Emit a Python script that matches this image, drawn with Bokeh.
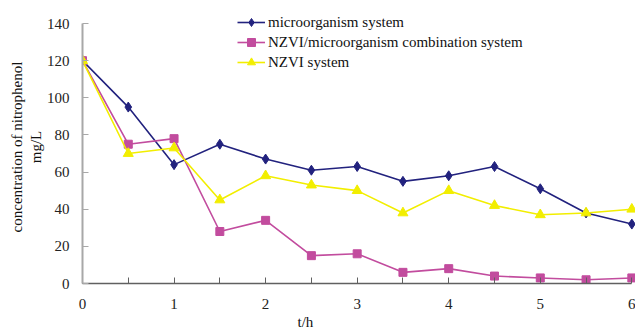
from bokeh.plotting import figure
from bokeh.models import FixedTicker, Legend, LegendItem, Range1d, Title
from bokeh.embed import file_html
from bokeh.resources import INLINE

t = [0, 0.5, 1, 1.5, 2, 2.5, 3, 3.5, 4, 4.5, 5, 5.5, 6]
micro = [120, 95, 64, 75, 67, 61, 63, 55, 58, 63, 51, 38, 32]
combo = [120, 75, 78, 28, 34, 15, 16, 6, 8, 4, 3, 2, 3]
nzvi = [120, 70, 73, 45, 58, 53, 50, 38, 50, 42, 37, 38, 40]
names = ["microorganism system", "NZVI/microorganism combination system", "NZVI system"]
x_ticks = [0, 1, 2, 3, 4, 5, 6]
x_minor = [0.5, 1.5, 2.5, 3.5, 4.5, 5.5]
y_ticks = [0, 20, 40, 60, 80, 100, 120, 140]
y_label = "concentration of nitrophenol\nmg/L"
x_label = "t/h"

FONT = "Liberation Serif"

p = figure(width=635, height=334, output_backend="svg", toolbar_location=None,
           x_range=Range1d(0, 6.04), y_range=Range1d(0, 147),
           min_border_left=82, min_border_right=0, min_border_top=10, min_border_bottom=51)
p.outline_line_color = None
p.xgrid.grid_line_color = None
p.ygrid.grid_line_color = None
p.background_fill_color = "white"

xa = p.xaxis[0]
xa.ticker = FixedTicker(ticks=x_ticks, minor_ticks=x_minor)
xa.bounds = (0, 6)
xa.axis_line_color = "#606060"
xa.axis_line_width = 1.5
xa.major_tick_in = 6
xa.major_tick_out = 0
xa.minor_tick_in = 6
xa.minor_tick_out = 0
xa.major_tick_line_color = "#606060"
xa.minor_tick_line_color = "#606060"
xa.major_label_standoff = 15
xa.major_label_text_font = FONT
xa.major_label_text_font_size = "15px"
xa.major_label_text_color = "#222222"

ya = p.yaxis[0]
ya.ticker = FixedTicker(ticks=y_ticks)
ya.bounds = (0, 140)
ya.axis_line_color = "#A8A8A8"
ya.axis_line_width = 2
ya.major_tick_in = 6
ya.major_tick_out = 0
ya.minor_tick_line_color = None
ya.major_tick_line_color = "#A8A8A8"
ya.major_label_standoff = 13
ya.major_label_text_font = FONT
ya.major_label_text_font_size = "15px"
ya.major_label_text_color = "#222222"
ya.axis_label = y_label
ya.axis_label_standoff = 0
ya.axis_label_text_font = FONT
ya.axis_label_text_font_size = "15px"
ya.axis_label_text_font_style = "normal"
ya.axis_label_text_color = "#111111"

p.add_layout(Title(text=x_label, align="left", offset=215, standoff=0,
                   text_font=FONT, text_font_size="15px", text_font_style="normal",
                   text_color="#111111"), "below")

series = [
    (micro, "#22227E", "diamond", 10),
    (combo, "#C24C9E", "square", 8),
    (nzvi, "#F2EE00", "triangle", 10),
]
items = []
for (vals, color, marker, size), name in zip(series, names):
    l = p.line(t, vals, line_color=color, line_width=1.6)
    s = p.scatter(t, vals, marker=marker, size=size, fill_color=color, line_color=color)
    items.append(LegendItem(label=name, renderers=[l, s]))

legend = Legend(items=items, location=(155, 211), border_line_color=None,
                background_fill_alpha=0, padding=0, margin=0, spacing=0,
                glyph_width=28, glyph_height=20, label_height=20, label_standoff=3,
                label_text_font=FONT, label_text_font_size="15px",
                label_text_color="#111111")
p.add_layout(legend, "center")

open("out.html", "w").write(file_html(p, INLINE))
